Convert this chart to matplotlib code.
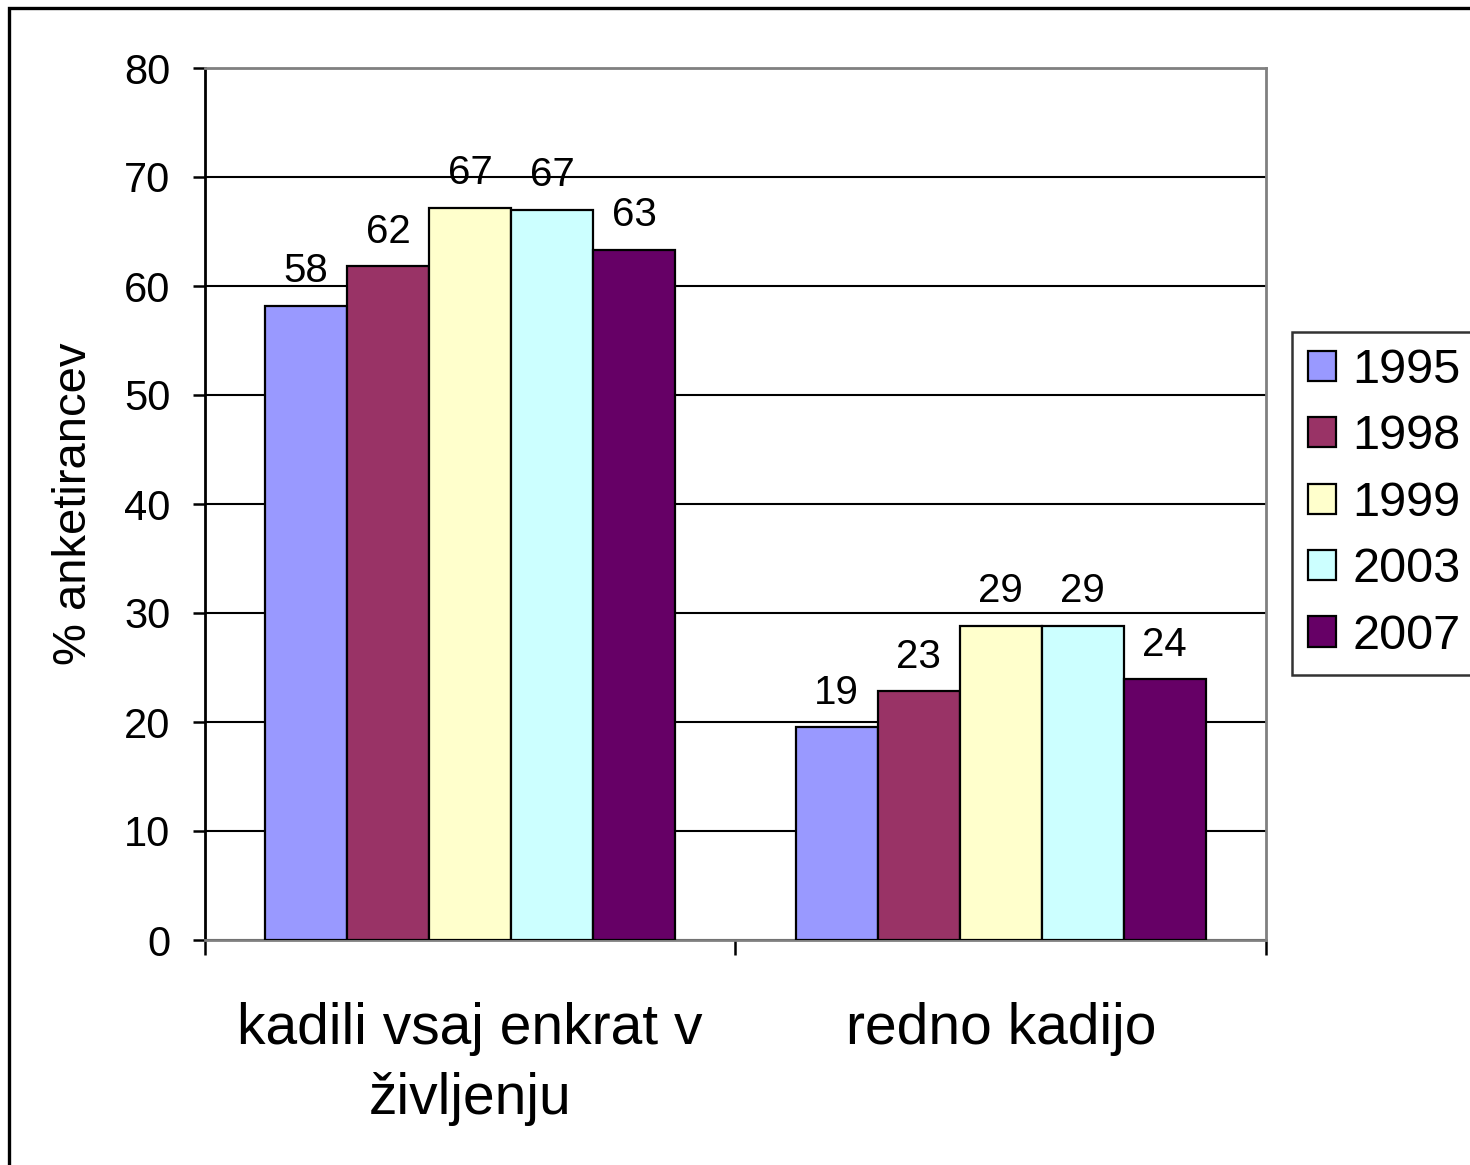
import matplotlib
matplotlib.use("Agg")
import matplotlib.pyplot as plt
import matplotlib.patches as mpatches
import numpy as np

plt.rcParams['font.family'] = ['Liberation Sans', 'DejaVu Sans']

categories = ["kadili vsaj enkrat v\nživljenju", "redno kadijo"]
years = ["1995", "1998", "1999", "2003", "2007"]
values = {
    "1995": [58.2, 19.5],
    "1998": [61.8, 22.8],
    "1999": [67.2, 28.8],
    "2003": [67.0, 28.8],
    "2007": [63.3, 23.9],
}
labels = {
    "1995": ["58", "19"],
    "1998": ["62", "23"],
    "1999": ["67", "29"],
    "2003": ["67", "29"],
    "2007": ["63", "24"],
}
colors = ["#9999FF", "#993366", "#FFFFCC", "#CCFFFF", "#660066"]
yticks = [0, 10, 20, 30, 40, 50, 60, 70, 80]
ylabel = "% anketirancev"

W, H = 1470, 1165
fig = plt.figure(figsize=(W / 100, H / 100), dpi=100)
ax = fig.add_axes([205 / W, 1 - 940 / H, (1266 - 205) / W, (940 - 68) / H])

x = np.arange(len(categories))
bw = 0.1546
n = len(years)
for i, (yr, c) in enumerate(zip(years, colors)):
    offs = (i - (n - 1) / 2) * bw
    bars = ax.bar(x + offs, values[yr], width=bw, color=c, edgecolor='black',
                  linewidth=1.6, label=yr, zorder=3)
    for b, lab in zip(bars, labels[yr]):
        ax.annotate(lab, (b.get_x() + b.get_width() / 2, b.get_height()),
                    xytext=(0, 17), textcoords='offset points',
                    ha='center', va='baseline', fontsize=29, zorder=4)

ax.set_xlim(-0.5, 1.5)
ax.set_ylim(0, 80)
ax.set_yticks(yticks)
ax.set_yticklabels([str(t) for t in yticks], fontsize=30)
ax.yaxis.grid(True, color='black', linewidth=1.5, zorder=0)
ax.set_axisbelow(True)

ax.set_xticks(x)
ax.set_xticklabels(categories, fontsize=41, linespacing=1.36)
ax.set_xticks([-0.5, 0.5, 1.5], minor=True)
ax.tick_params(axis='x', which='major', length=0, pad=45)
ax.tick_params(axis='x', which='minor', length=11, width=1.8, color='black', direction='out')
ax.tick_params(axis='y', length=9, width=1.8, pad=16)

for s in ['top', 'right', 'bottom']:
    ax.spines[s].set_color('#808080')
    ax.spines[s].set_linewidth(2)
ax.spines['left'].set_color('black')
ax.spines['left'].set_linewidth(2)

ax.set_ylabel(ylabel, fontsize=34, labelpad=20)

leg = fig.legend(loc='upper left', bbox_to_anchor=(1292 / W, 1 - 332 / H),
                 fontsize=35, frameon=True, fancybox=False, shadow=False,
                 handlelength=0.58, handleheight=0.58, handletextpad=0.33,
                 labelspacing=0.44, borderpad=0.33, borderaxespad=0)
leg.get_frame().set_edgecolor('black')
leg.get_frame().set_linewidth(1.8)

border = mpatches.Rectangle((9 / W, -0.05), 1.2, 1 - 8 / H + 0.05, transform=fig.transFigure,
                            fill=False, edgecolor='black', linewidth=2.4, zorder=10)
fig.patches.append(border)

fig.savefig("out.png", dpi=100)
